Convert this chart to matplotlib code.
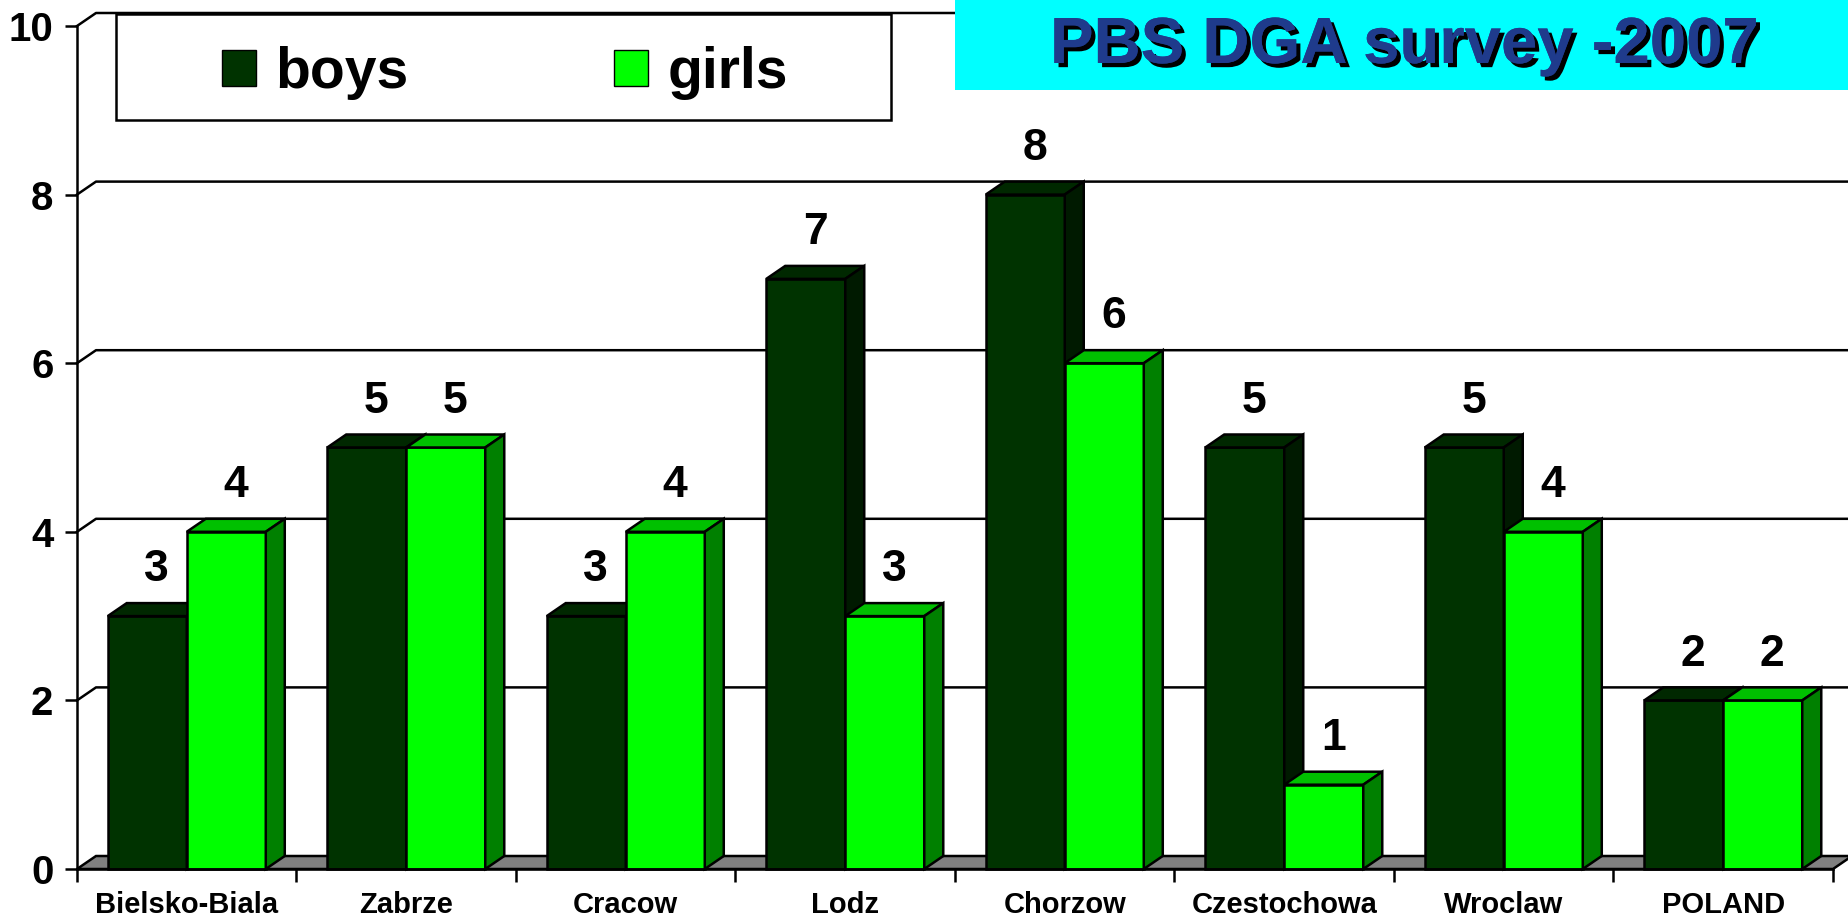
import matplotlib.pyplot as plt
import matplotlib.patheffects as pe
from matplotlib.patches import Rectangle, Patch
import numpy as np

cities = ['Bielsko-Biala', 'Zabrze', 'Cracow', 'Lodz', 'Chorzow',
          'Czestochowa', 'Wroclaw', 'POLAND']
boys = [3, 5, 3, 7, 8, 5, 5, 2]
girls = [4, 5, 4, 3, 6, 1, 4, 2]
yticks = [0, 2, 4, 6, 8, 10]

plt.rcParams['font.family'] = ['Liberation Sans', 'DejaVu Sans']
plt.rcParams['font.weight'] = 'bold'

W, H = 1849, 919
fig = plt.figure(figsize=(W / 100, H / 100), dpi=100)
ax = fig.add_axes([77 / W, 1 - 869 / H, (1833 - 77) / W, (869 - 26) / H])
ax.set_xlim(0, 8)
ax.set_ylim(0, 10)

# depth of the 3d effect in data units
dx = 19 / ((1833 - 77) / 8)
dy = 13 / ((869 - 26) / 10)
n = len(cities)
bw = 0.36
lw = 1.8

# back wall grid lines
for y in yticks[1:]:
    ax.plot([0, dx, n + dx], [y, y + dy, y + dy], color='black', lw=lw,
            clip_on=False, zorder=1)
# floor
ax.fill([0, n, n + dx, dx], [0, 0, dy, dy], facecolor='#808080',
        edgecolor='black', lw=lw, clip_on=False, zorder=1.5)

def bar3d(x0, v, front, top, side):
    ax.bar(x0, v, width=bw, align='edge', color=front, edgecolor='black',
           lw=lw, zorder=2, clip_on=False)
    ax.fill([x0, x0 + bw, x0 + bw + dx, x0 + dx], [v, v, v + dy, v + dy],
            facecolor=top, edgecolor='black', lw=lw, zorder=2, clip_on=False)
    ax.fill([x0 + bw, x0 + bw + dx, x0 + bw + dx, x0 + bw],
            [0, dy, v + dy, v], facecolor=side, edgecolor='black', lw=lw,
            zorder=2, clip_on=False)
    ax.text(x0 + bw / 2 + dx / 2, v + 0.55, str(v), ha='center', va='center',
            fontsize=32, fontweight='bold', zorder=3)

for i in range(n):
    bar3d(i + 0.14, boys[i], '#003300', '#002800', '#001a00')
    bar3d(i + 0.5, girls[i], '#00ff00', '#00c000', '#008000')

for s in ['top', 'right']:
    ax.spines[s].set_visible(False)
ax.spines['left'].set_linewidth(lw)
ax.spines['bottom'].set_linewidth(lw)
ax.spines['bottom'].set_zorder(2.5)

ax.set_yticks(yticks)
ax.set_yticklabels([str(v) for v in yticks], fontsize=29, fontweight='bold')
ax.tick_params(axis='y', length=9, width=lw, pad=8)
ax.set_xticks(np.arange(n) + 0.5)
ax.set_xticklabels(cities, fontsize=21, fontweight='bold')
ax.set_xticks(np.arange(n + 1), minor=True)
ax.tick_params(axis='x', which='major', length=0, pad=16)
ax.tick_params(axis='x', which='minor', length=9, width=lw)

# legend box
fig.patches.append(Rectangle((116 / W, 1 - 120 / H), 775 / W, 106 / H,
                             transform=fig.transFigure, facecolor='white',
                             edgecolor='black', lw=lw))
handles = [Patch(facecolor='#003300', edgecolor='black', label='boys'),
           Patch(facecolor='#00ff00', edgecolor='black', label='girls')]
fig.legend(handles=handles, loc='center', bbox_to_anchor=(505 / W, 1 - 73 / H),
           ncol=2, frameon=False, prop={'size': 41, 'weight': 'bold'},
           handlelength=0.6, handleheight=0.6, handletextpad=0.34,
           columnspacing=3.6)

# title box
fig.patches.append(Rectangle((955 / W, 1 - 90 / H), (W - 955) / W, 90 / H,
                             transform=fig.transFigure, facecolor='#00ffff',
                             edgecolor='none'))
fig.text(1404 / W, 1 - 46 / H, 'PBS DGA survey -2007', ha='center',
         va='center', fontsize=47, fontweight='bold', color='#1f3b8c',
         path_effects=[pe.withSimplePatchShadow(offset=(3, -3),
                                                shadow_rgbFace='black',
                                                alpha=1), pe.Normal()],
         zorder=6)

fig.savefig('out.png', dpi=100)
